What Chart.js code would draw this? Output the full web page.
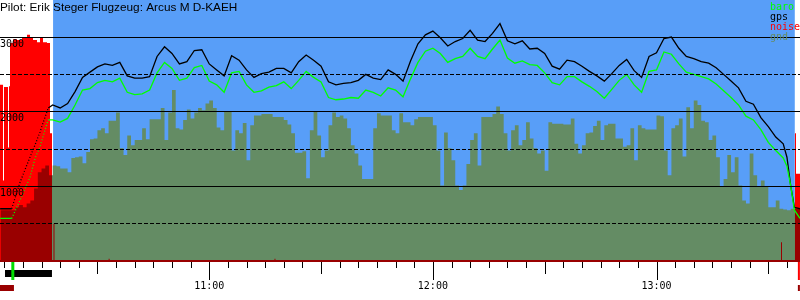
<!DOCTYPE html>
<html>
<head>
<meta charset="utf-8">
<title>Barogramm</title>
<script src="https://cdn.jsdelivr.net/npm/chart.js@4.4.1/dist/chart.umd.min.js"></script>
<style>
  body { margin: 0; background: #fff; }
  canvas { display: block; }
</style>
</head>
<body>
<canvas id="barogram" width="800" height="300"></canvas>
<script>
// times are minutes after midnight, altitudes in metres
const chartTitle = 'Pilot: Erik Steger Flugzeug: Arcus M D-KAEH';
const seriesNames = ['baro', 'gps', 'noise', 'gnd'];
const seriesColors = ['#00ff00', '#000000', '#ff0000', '#648c64'];

const timeRange = [603.86, 818.5];
const altRange = [0, 3280];
const altGrid = [500, 1000, 1500, 2000, 2500, 3000];
const glideWindow = [618.1, 817.1];   // engine off -> blue background
const engineRun = [605.2, 617.8];
const groundRoll = [603.86, 607.6];
const takeoff = 607.3;
const logEnd = 818.2;

const lineTime = [603.9, 607.0, 609.2, 611.9, 613.3, 614.6, 615.9, 616.8,
  618, 620, 622, 624, 626, 628, 630, 632, 634, 636,
  638, 640, 642, 644, 646, 648, 650, 652, 654, 656,
  658, 660, 662, 664, 666, 668, 670, 672, 674, 676,
  678, 680, 682, 684, 686, 688, 690, 692, 694, 696,
  698, 700, 702, 704, 706, 708, 710, 712, 714, 716,
  718, 720, 722, 724, 726, 728, 730, 732, 734, 736,
  738, 740, 742, 744, 746, 748, 750, 752, 754, 756,
  758, 760, 762, 764, 766, 768, 770, 772, 774, 776,
  778, 780, 782, 784, 786, 788, 790, 792, 794, 796,
  798, 800, 802, 804, 806, 808, 810, 812, 814,
  815, 816, 817, 818.5];

const gpsAlt = [700, 700, 1050, 1390, 1560, 1730, 1920, 2050,
  2090, 2050, 2110, 2270, 2460, 2530, 2600, 2640, 2620, 2660,
  2480, 2450, 2450, 2470, 2740, 2870, 2780, 2640, 2670, 2820,
  2830, 2640, 2560, 2480, 2750, 2690, 2560, 2460, 2510, 2530,
  2580, 2580, 2520, 2670, 2760, 2690, 2610, 2400, 2360, 2380,
  2390, 2420, 2500, 2450, 2430, 2560, 2500, 2410, 2680, 2910,
  3030, 3080, 2990, 2880, 2940, 2980, 3090, 2960, 2940, 3050,
  3180, 2950, 2910, 2950, 2840, 2850, 2780, 2610, 2570, 2690,
  2670, 2610, 2540, 2480, 2410, 2510, 2620, 2700, 2550, 2460,
  2740, 2790, 2980, 3000, 2850, 2740, 2710, 2670, 2650, 2590,
  2500, 2410, 2320, 2140, 2100, 1920, 1800, 1660, 1570,
  1390, 1010, 720, 700];

const baroAlt = [570, 570, 810, 1120, 1380, 1530, 1750, 1890,
  1890, 1860, 1910, 2090, 2290, 2310, 2390, 2420, 2400, 2450,
  2260, 2230, 2240, 2290, 2520, 2660, 2580, 2420, 2450, 2590,
  2620, 2410, 2360, 2260, 2520, 2540, 2360, 2260, 2280, 2330,
  2350, 2400, 2310, 2420, 2540, 2460, 2400, 2190, 2160, 2170,
  2190, 2180, 2290, 2260, 2210, 2320, 2290, 2200, 2440, 2660,
  2810, 2850, 2780, 2660, 2710, 2740, 2850, 2740, 2710, 2840,
  2960, 2720, 2650, 2680, 2630, 2620, 2520, 2390, 2360, 2470,
  2470, 2400, 2340, 2270, 2180, 2300, 2420, 2500, 2360, 2260,
  2540, 2560, 2800, 2770, 2640, 2530, 2500, 2470, 2440, 2370,
  2280, 2190, 2090, 1940, 1890, 1760, 1590, 1480, 1380,
  1270, 1010, 680, 570];

// engine noise level, each value holds until the next time
const noiseTime = [603.86, 604.66, 604.93, 606.01, 606.27, 606.54, 607.35, 608.42, 609.76, 611.10,
  611.91, 612.71, 613.79, 614.59, 615.39, 616.47, 617.27, 617.81, 618.21, 618.48,
  633.0, 633.27, 677.5, 677.77, 813.4, 813.67, 817.15, 817.42, 818.6];
const noiseLevel = [2360, 1080, 2330, 1520, 2340, 2920, 2970, 2960, 2990, 3030,
  3000, 2960, 2930, 2990, 2930, 2920, 1710, 0, 500, 0,
  30, 0, 30, 0, 250, 0, 1710, 1170, 1170];

// ground elevation under the track, one value per minute
const gndTime = [604, 605, 606, 607, 608, 609, 610, 611, 612, 613,
  614, 615, 616, 617, 618, 619, 620, 621, 622, 623,
  624, 625, 626, 627, 628, 629, 630, 631, 632, 633,
  634, 635, 636, 637, 638, 639, 640, 641, 642, 643,
  644, 645, 646, 647, 648, 649, 650, 651, 652, 653,
  654, 655, 656, 657, 658, 659, 660, 661, 662, 663,
  664, 665, 666, 667, 668, 669, 670, 671, 672, 673,
  674, 675, 676, 677, 678, 679, 680, 681, 682, 683,
  684, 685, 686, 687, 688, 689, 690, 691, 692, 693,
  694, 695, 696, 697, 698, 699, 700, 701, 702, 703,
  704, 705, 706, 707, 708, 709, 710, 711, 712, 713,
  714, 715, 716, 717, 718, 719, 720, 721, 722, 723,
  724, 725, 726, 727, 728, 729, 730, 731, 732, 733,
  734, 735, 736, 737, 738, 739, 740, 741, 742, 743,
  744, 745, 746, 747, 748, 749, 750, 751, 752, 753,
  754, 755, 756, 757, 758, 759, 760, 761, 762, 763,
  764, 765, 766, 767, 768, 769, 770, 771, 772, 773,
  774, 775, 776, 777, 778, 779, 780, 781, 782, 783,
  784, 785, 786, 787, 788, 789, 790, 791, 792, 793,
  794, 795, 796, 797, 798, 799, 800, 801, 802, 803,
  804, 805, 806, 807, 808, 809, 810, 811, 812, 813,
  814, 815, 816, 817, 818, 819];
const gndAlt = [680, 680, 680, 680, 720, 750, 720, 770, 810, 970,
  1190, 1240, 1280, 1150, 1280, 1270, 1240, 1240, 1190, 1380,
  1390, 1400, 1310, 1460, 1630, 1640, 1750, 1780, 1710, 1880,
  1880, 1990, 1510, 1420, 1680, 1550, 1620, 1620, 1780, 1630,
  1900, 1900, 1900, 2050, 1620, 1990, 2290, 1780, 1760, 1890,
  2030, 1910, 1990, 2050, 2020, 2110, 2150, 2050, 1790, 1750,
  2000, 2000, 1480, 1750, 1710, 1850, 1350, 1820, 1950, 1950,
  1970, 1970, 1970, 1930, 1930, 1930, 1890, 1830, 1710, 1450,
  1450, 1470, 1110, 1750, 2010, 1680, 1390, 1480, 1820, 1990,
  1930, 1950, 1910, 1780, 1550, 1440, 1280, 1100, 1100, 1100,
  1780, 1980, 1950, 1950, 1950, 1750, 1710, 1980, 1860, 1860,
  1820, 1900, 1930, 1930, 1930, 1930, 1820, 1480, 1010, 1720,
  1510, 1350, 1010, 950, 1010, 1300, 1620, 1710, 1280, 1930,
  1930, 1930, 1970, 2070, 1970, 1710, 1480, 1750, 1820, 1550,
  1620, 1860, 1640, 1510, 1440, 1480, 1210, 1860, 1840, 1840,
  1840, 1830, 1830, 1910, 1570, 1440, 1550, 1710, 1720, 1810,
  1880, 1620, 1820, 1840, 1840, 1640, 1640, 1530, 1550, 1780,
  1350, 1820, 1780, 1760, 1760, 1760, 1950, 1940, 1480, 1150,
  1780, 1820, 1910, 1400, 2060, 1780, 2150, 2090, 1880, 1860,
  1620, 1680, 1390, 990, 1100, 1420, 1190, 1390, 1010, 810,
  770, 1440, 1150, 990, 1080, 990, 720, 720, 810, 700,
  690, 680, 700, 700, 700, 700];

const skyColor = '#589ef8';
const noiseOnGround = '#990000';
const monoFont = { family: '"DejaVu Sans Mono", monospace', size: 10 };

const toPoints = (xs, ys) => xs.map((x, i) => ({ x: x, y: ys[i] }));
const clock = v => Math.floor(v / 60) + ':' + String(v % 60).padStart(2, '0');

// the climb under engine only has sparse fixes, draw it dotted
const climbDash = ctx =>
  (ctx.p0.parsed.x >= takeoff - 0.5 && ctx.p1.parsed.x <= engineRun[1]) ? [1, 2] : undefined;

const flightPlugin = {
  id: 'flight',
  beforeDraw(chart) {
    const { ctx, chartArea, scales } = chart;
    const x0 = scales.x.getPixelForValue(glideWindow[0]);
    const x1 = scales.x.getPixelForValue(glideWindow[1]);
    ctx.save();
    ctx.fillStyle = skyColor;
    ctx.fillRect(x0, 0, x1 - x0, chartArea.bottom);
    ctx.restore();
  },
  // noise is painted on top of the ground profile (dark red) and behind the rest (red);
  // the fill is drawn before our own beforeDatasetDraw, so set the mode one step early
  beforeDatasetsDraw(chart) {
    const sets = chart.data.datasets;
    chart.ctx.globalCompositeOperation = sets[sets.length - 1].blend || 'source-over';
  },
  afterDatasetDraw(chart, args) {
    const next = chart.data.datasets[args.index - 1];
    chart.ctx.globalCompositeOperation = (next && next.blend) || 'source-over';
  },
  afterDatasetsDraw(chart) {
    chart.ctx.globalCompositeOperation = 'source-over';
  },
  afterDraw(chart) {
    const { ctx, chartArea, scales } = chart;
    const x = scales.x;
    const px = v => x.getPixelForValue(v);
    const base = chartArea.bottom + 1;

    ctx.save();
    ctx.strokeStyle = '#000';
    ctx.lineWidth = 1;
    x.ticks.forEach(t => {
      const len = t.value % 60 === 0 ? 18 : (t.value % 30 === 0 ? 12 : 6);
      const p = Math.round(px(t.value)) + 0.5;
      ctx.beginPath();
      ctx.moveTo(p, base);
      ctx.lineTo(p, base + len);
      ctx.stroke();
    });

    ctx.fillStyle = '#000';
    ctx.fillRect(px(engineRun[0]), base + 8, px(engineRun[1]) - px(engineRun[0]), 7);
    ctx.fillStyle = noiseOnGround;
    ctx.fillRect(px(groundRoll[0]), base + 23, px(groundRoll[1]) - px(groundRoll[0]), 6);
    ctx.fillRect(px(logEnd) - 1, base + 23, 2, 6);
    ctx.fillStyle = '#00dd00';
    ctx.fillRect(px(takeoff) - 1.5, base, 3, 18);
    ctx.fillStyle = '#ff0000';
    ctx.fillRect(px(logEnd) - 1, base, 2, 18);

    ctx.font = '10px "DejaVu Sans Mono", monospace';
    ctx.textBaseline = 'top';
    seriesNames.forEach((name, i) => {
      ctx.fillStyle = seriesColors[i];
      ctx.fillText(name, chart.width - 30, 2 + i * 10);
    });
    ctx.restore();
  }
};

const noisePoints = toPoints(noiseTime, noiseLevel);

new Chart(document.getElementById('barogram'), {
  type: 'line',
  data: {
    datasets: [
      {
        label: 'baro', data: toPoints(lineTime, baroAlt),
        borderColor: seriesColors[0], borderWidth: 1.3, pointRadius: 0,
        segment: { borderDash: climbDash }
      },
      {
        label: 'gps', data: toPoints(lineTime, gpsAlt),
        borderColor: seriesColors[1], borderWidth: 1.3, pointRadius: 0,
        segment: { borderDash: climbDash }
      },
      {
        label: 'noise', data: noisePoints, stepped: true, fill: 'origin',
        backgroundColor: seriesColors[2], borderColor: 'transparent', borderWidth: 0, pointRadius: 0,
        blend: 'destination-over'
      },
      {
        label: 'noise', data: noisePoints, stepped: true, fill: 'origin',
        backgroundColor: noiseOnGround, borderColor: 'transparent', borderWidth: 0, pointRadius: 0,
        blend: 'source-atop'
      },
      {
        label: 'gnd', data: toPoints(gndTime, gndAlt), stepped: true, fill: 'origin',
        backgroundColor: seriesColors[3], borderColor: 'transparent', borderWidth: 0, pointRadius: 0
      }
    ]
  },
  options: {
    responsive: false,
    devicePixelRatio: 1,
    animation: false,
    events: [],
    layout: { padding: 0 },
    scales: {
      x: {
        type: 'linear',
        min: timeRange[0],
        max: timeRange[1],
        afterFit: s => { s.height = 39; },
        grid: { display: true, drawOnChartArea: false, drawTicks: true, tickLength: 19, tickColor: 'transparent' },
        border: { display: true, color: noiseOnGround, width: 2, z: 1 },
        ticks: {
          stepSize: 5, includeBounds: false, autoSkip: false, maxRotation: 0,
          padding: 0, color: '#000', font: monoFont,
          callback: v => v % 60 === 0 ? clock(v) : ''
        }
      },
      y: {
        type: 'linear',
        min: altRange[0],
        max: altRange[1],
        afterFit: s => { s.width = 0; },
        afterBuildTicks: s => { s.ticks = altGrid.map(v => ({ value: v })); },
        border: { display: false, dash: ctx => (ctx.tick && ctx.tick.value % 1000) ? [4, 2] : [] },
        grid: { z: 1, drawTicks: false, lineWidth: 1, color: '#000' },
        ticks: {
          z: 1, mirror: true, padding: 0, labelOffset: 7,
          color: '#000', font: monoFont,
          callback: v => v % 1000 === 0 ? String(v) : ''
        }
      }
    },
    plugins: {
      legend: { display: false },
      tooltip: { enabled: false },
      title: {
        display: true, text: chartTitle, align: 'start', color: '#000',
        font: { family: '"Liberation Sans", Arial, sans-serif', size: 11.8, weight: 'normal', lineHeight: 1.2 },
        padding: { top: 1, bottom: 1 }
      }
    }
  },
  plugins: [flightPlugin]
});
</script>
</body>
</html>
